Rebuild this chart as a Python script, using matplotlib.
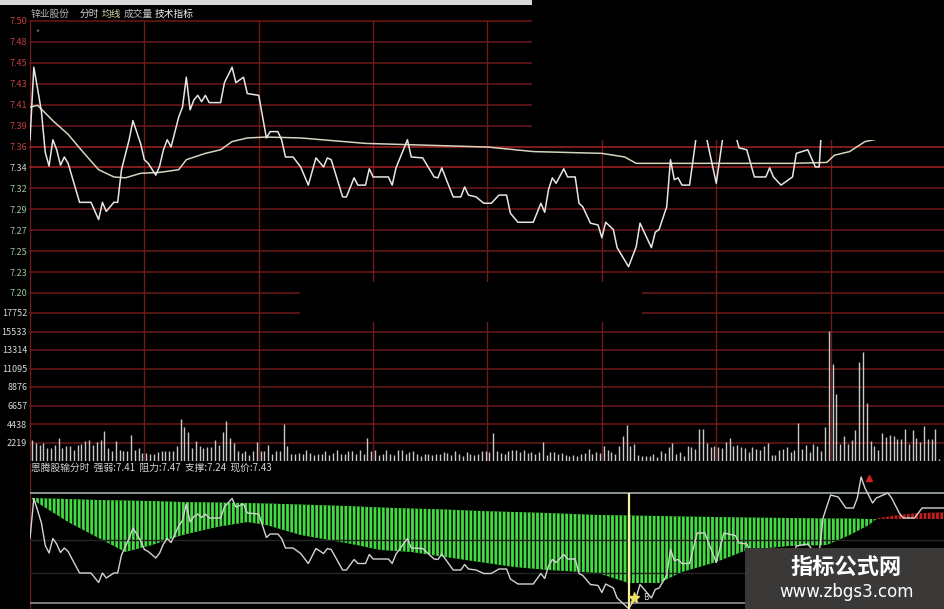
import numpy as np
import matplotlib.pyplot as plt
from matplotlib.patches import Rectangle

plt.rcParams['font.family'] = ['Noto Sans CJK SC', 'DejaVu Sans']
plt.rcParams['hatch.linewidth'] = 1.0

# --- price line (minute, price) ---
price_minutes = [
    0, 1, 2, 3, 4, 5, 6, 7, 8, 9,
    10, 13, 16, 18, 19, 20, 22, 23, 24, 26,
    27, 29, 30, 31, 33, 34, 35, 36, 37, 39,
    40, 41, 42, 43, 44, 45, 46, 47, 50, 51,
    53, 54, 56, 57, 60, 62, 63, 65, 66, 67,
    69, 71, 73, 75, 77, 78, 79, 82, 83, 85,
    86, 88, 89, 90, 94, 95, 96, 99, 100, 103,
    106, 107, 108, 111, 113, 114, 115, 117, 119, 121,
    123, 125, 126, 128, 132, 134, 135, 136, 137, 138,
    140, 141, 143, 144, 145, 147, 149, 150, 151, 153,
    154, 157, 159, 160, 163, 164, 165, 167, 168, 169,
    170, 171, 173, 175, 177, 180, 182, 185, 186, 188,
    190, 193, 194, 195, 197, 200, 201, 204, 206, 207,
    208, 210, 212, 214, 216, 217, 218, 219, 221, 222,
    225, 226, 228, 229, 232, 234, 240]
price_values = [
    7.369, 7.449, 7.425, 7.400, 7.355, 7.340, 7.369, 7.358, 7.341, 7.350,
    7.343, 7.300, 7.300, 7.281, 7.300, 7.290, 7.300, 7.300, 7.336, 7.369,
    7.390, 7.365, 7.347, 7.343, 7.330, 7.340, 7.358, 7.369, 7.361, 7.394,
    7.405, 7.438, 7.402, 7.413, 7.418, 7.411, 7.418, 7.410, 7.410, 7.432,
    7.449, 7.432, 7.438, 7.420, 7.418, 7.371, 7.378, 7.378, 7.369, 7.350,
    7.350, 7.339, 7.319, 7.349, 7.339, 7.349, 7.347, 7.306, 7.306, 7.327,
    7.319, 7.319, 7.337, 7.328, 7.328, 7.319, 7.338, 7.369, 7.350, 7.349,
    7.328, 7.327, 7.338, 7.306, 7.306, 7.317, 7.308, 7.306, 7.299, 7.299,
    7.308, 7.308, 7.288, 7.278, 7.278, 7.299, 7.289, 7.314, 7.327, 7.321,
    7.337, 7.328, 7.328, 7.299, 7.295, 7.277, 7.275, 7.261, 7.278, 7.270,
    7.250, 7.229, 7.251, 7.277, 7.250, 7.267, 7.270, 7.295, 7.347, 7.325,
    7.327, 7.319, 7.319, 7.380, 7.380, 7.321, 7.380, 7.375, 7.360, 7.358,
    7.328, 7.328, 7.338, 7.328, 7.319, 7.328, 7.354, 7.358, 7.339, 7.339,
    7.410, 7.456, 7.452, 7.430, 7.430, 7.450, 7.492, 7.470, 7.440, 7.450,
    7.460, 7.450, 7.420, 7.410, 7.410, 7.430, 7.430]

# --- average price line ---
avg_minutes = [0, 2, 6, 10, 14, 18, 22, 25, 29, 34, 39, 41, 46, 50, 53, 57,
               62, 71, 88, 120, 132, 150, 156, 159, 200, 209, 211, 215, 219, 240]
avg_values = [7.405, 7.407, 7.390, 7.375, 7.355, 7.336, 7.328, 7.327, 7.332,
              7.333, 7.336, 7.347, 7.354, 7.358, 7.367, 7.371, 7.372, 7.371,
              7.365, 7.361, 7.356, 7.354, 7.350, 7.343, 7.343, 7.344, 7.352,
              7.356, 7.367, 7.385]

# --- volume per minute ---
volume = [
    2530, 2140, 1950, 2140, 1560, 1560, 1950, 2725, 1560, 1750,
    1750, 1360, 1950, 2020, 2340, 2530, 1950, 2260, 2530, 3580,
    1560, 1170, 2340, 1360, 1170, 1170, 3115, 1360, 1560, 970,
    970, 860, 860, 1090, 1170, 1170, 1250, 1170, 1830, 4980,
    4090, 3500, 1560, 2340, 1750, 1560, 1640, 1640, 2530, 1950,
    3500, 4750, 2725, 2140, 1250, 970, 1170, 700, 1170, 2220,
    1170, 1170, 1870, 860, 1170, 1170, 4480, 1750, 780, 780,
    970, 860, 1360, 970, 700, 780,
    860, 1170, 700, 970, 1360, 780, 860, 1170, 1250, 860,
    1360, 860, 2800, 1170, 1360, 700, 780, 1360, 860, 700,
    1360, 1360, 780, 1050, 1170, 860, 620, 780, 860, 700,
    780, 860, 1090, 970, 700, 1170, 860, 620, 1090, 780,
    700, 860, 1170, 1250, 1090, 3300, 1170, 970, 860, 1250,
    1360, 1360, 1090, 1360, 970, 1090, 780, 1050, 2220, 700,
    1050, 1090, 860, 970, 700, 620, 700, 540, 860, 970,
    1480, 780, 1050, 970, 1750, 1360, 1050, 780, 1750, 3040,
    4280, 1750,
    2020, 660, 580, 580, 580, 860, 470, 1250, 970, 1640,
    2100, 860, 1130, 580, 1830, 1710, 1440, 3780, 3780, 2100,
    1710, 1830, 1710, 1560, 2220, 2800, 1830, 1910, 1640, 1520,
    1050, 1640, 1440, 1360, 1830, 2100, 740, 740, 1360, 1440,
    1640, 1050, 1360, 4555, 1440, 1910, 1050, 2020, 1830, 1250,
    4050, 15650, 11640, 8060, 2020, 3000, 2020, 2500, 3700, 11870,
    13120, 6970, 2410, 1830, 1360, 3390, 2920, 3080, 3000, 2690,
    2610, 3850, 2020, 3700, 2800, 2220, 4240, 2690, 2610, 3850,
    270]

# --- indicator band (green) and red tail ---
ind_minutes = [0, 10, 18, 25, 32, 40, 49, 57, 62, 71, 83, 92, 100, 109, 118,
               127, 136, 149, 157, 165, 171, 180, 188, 199, 209, 215, 220, 222]
ind_top = [7.450, 7.448, 7.446, 7.445, 7.444, 7.442, 7.441, 7.440, 7.439,
           7.437, 7.434, 7.431, 7.429, 7.427, 7.424, 7.422, 7.420, 7.416,
           7.415, 7.414, 7.413, 7.412, 7.411, 7.410, 7.409, 7.409, 7.408, 7.408]
ind_bottom = [7.450, 7.402, 7.370, 7.342, 7.356, 7.376, 7.392, 7.402, 7.396,
              7.376, 7.360, 7.346, 7.342, 7.332, 7.322, 7.312, 7.306, 7.300,
              7.280, 7.280, 7.302, 7.322, 7.346, 7.354, 7.356, 7.376, 7.396, 7.408]
red_minutes = [222, 226, 230, 234, 238, 240]
red_top = [7.409, 7.414, 7.418, 7.420, 7.421, 7.421]
red_base = 7.408
signal_minute = [157]
star_minute, star_price = [158.5], [7.250]
peak_minute, peak_price = [220], [7.490]

price_labels = ['7.20', '7.23', '7.25', '7.27', '7.29', '7.32', '7.34',
                '7.36', '7.39', '7.41', '7.43', '7.45', '7.48', '7.50']
vol_ticks = [2219, 4438, 6657, 8876, 11095, 13314, 15533, 17752]
vol_labels = ['2219', '4438', '6657', '8876', '11095', '13314', '15533', '17752']
header = ['锌业股份', '分时', '均线', '成交量', '技术指标']
ind_title = '恩腾股输分时  强弱:7.41  阻力:7.47  支撑:7.24  现价:7.43'

GRID = '#6e1a1a'
GRID_HI = '#a52222'

W, H = 945, 609
fig = plt.figure(figsize=(W / 100, H / 100), dpi=100, facecolor='black')


def box(x0, y0, x1, y1):
    return [x0 / W, 1 - y1 / H, (x1 - x0) / W, (y1 - y0) / H]


def px_rect(x0, y0, x1, y1, color, z):
    fig.add_artist(Rectangle((x0 / W, 1 - y1 / H), (x1 - x0) / W, (y1 - y0) / H,
                             transform=fig.transFigure, facecolor=color,
                             edgecolor='none', zorder=z))


def clean(ax):
    for s in ax.spines.values():
        s.set_visible(False)
    ax.set_xticks([])
    ax.set_xlim(0, 240)


# vertical grid behind price + volume
grid_ax = fig.add_axes(box(30, 21, 945, 461), facecolor='black')
grid_ax.set_xlim(0, 240)
grid_ax.axis('off')
for m in range(0, 241, 30):
    grid_ax.axvline(m, color=GRID, lw=1)

# price panel
price_ax = fig.add_axes(box(30, 21, 945, 293), facecolor='none')
clean(price_ax)
price_ax.set_ylim(7.20, 7.50)
pticks = np.linspace(7.20, 7.50, len(price_labels))
for t, lab in zip(pticks, price_labels):
    c = GRID_HI if lab in ('7.34', '7.36') else GRID
    price_ax.axhline(t, color=c, lw=1.1, clip_on=False)
price_ax.set_yticks(pticks, price_labels)
price_ax.tick_params(axis='y', length=0, pad=2, labelsize=6.5)
for lab in price_ax.get_yticklabels():
    v = float(lab.get_text())
    lab.set_color('#c84040' if v >= 7.355 else ('#d0d0d0' if v > 7.335 else '#9cc49c'))
price_ax.plot(avg_minutes, avg_values, color='#d6d4bc', lw=1.1)
price_ax.plot(price_minutes, price_values, color='#e6e6e6', lw=1.1)
price_ax.text(2, 7.487, '*', color='#909090', fontsize=6, ha='center', va='center')

# volume panel
vol_ax = fig.add_axes(box(30, 313, 945, 461), facecolor='none')
clean(vol_ax)
vol_ax.set_ylim(0, 17752)
for t in vol_ticks:
    vol_ax.axhline(t, color=GRID, lw=1.1, clip_on=False)
vol_ax.set_yticks(vol_ticks, vol_labels)
vol_ax.tick_params(axis='y', length=0, pad=2, labelsize=6.5, labelcolor='#d8d8d8')
vol_ax.vlines(np.arange(len(volume)) + 0.5, 0, volume, color='#c8c8c8', lw=1.0)

# indicator panel
ind_ax = fig.add_axes(box(30, 463, 945, 609), facecolor='none')
ind_ax.set_xlim(0, 240)
ind_ax.set_ylim(7.228, 7.52)
ind_ax.axis('off')
ind_ax.axvline(0, color=GRID, lw=1)
ind_ax.axhline(7.46, color='#8c968c', lw=1.4)
ind_ax.axhline(7.24, color='#7c7c7c', lw=1.4)
ind_ax.axhline(7.366, color='#262626', lw=1)
ind_ax.axhline(7.30, color='#262626', lw=1)
ind_ax.fill_between(ind_minutes, ind_top, ind_bottom, facecolor='#42dc42',
                    edgecolor='black', hatch='||||', linewidth=0)
ind_ax.fill_between(red_minutes, red_base, red_top, facecolor='#c41c1c',
                    edgecolor='black', hatch='||||', linewidth=0)
ind_ax.plot(price_minutes, price_values, color='#d4d4d4', lw=1.0)
ind_ax.vlines(signal_minute, 7.228, 7.46, color='#f2f2a0', lw=1.6)
ind_ax.plot(star_minute, star_price, marker='*', color='#f0e060', ms=8, lw=0)
ind_ax.text(star_minute[0] + 2.2, star_price[0], 'B', color='#d0d0d0',
            fontsize=6, va='center')
ind_ax.plot(peak_minute, peak_price, marker='^', color='#d02020', ms=4, lw=0)

# screenshot artefacts: black masks and top bar
px_rect(532, 0, 945, 140, 'black', 20)
px_rect(300, 282, 642, 322, 'black', 20)
px_rect(0, 0, 532, 5, '#d8d8d8', 21)

# header texts
hx = [31, 80, 102, 124, 155]
hc = ['#b4b4b4', '#d4d4d4', '#d8d6a8', '#c0c0c0', '#f0f0f0']
for x, t, c in zip(hx, header, hc):
    fig.text(x / W, 1 - 14 / H, t, color=c, fontsize=7, va='center', zorder=25)
fig.text(31 / W, 1 - 467.5 / H, ind_title, color='#d4d4d4', fontsize=7,
         va='center', zorder=25)

# watermark
px_rect(745, 548, 945, 609, '#3b3838', 22)
fig.text(846 / W, 1 - 567 / H, '指标公式网', color='white', fontsize=16,
         fontweight='bold', ha='center', va='center', zorder=25)
fig.text(847 / W, 1 - 592 / H, 'www.zbgs3.com', color='white', fontsize=12,
         ha='center', va='center', family='DejaVu Sans', zorder=25)

fig.savefig('out.png', dpi=100, facecolor='black')
